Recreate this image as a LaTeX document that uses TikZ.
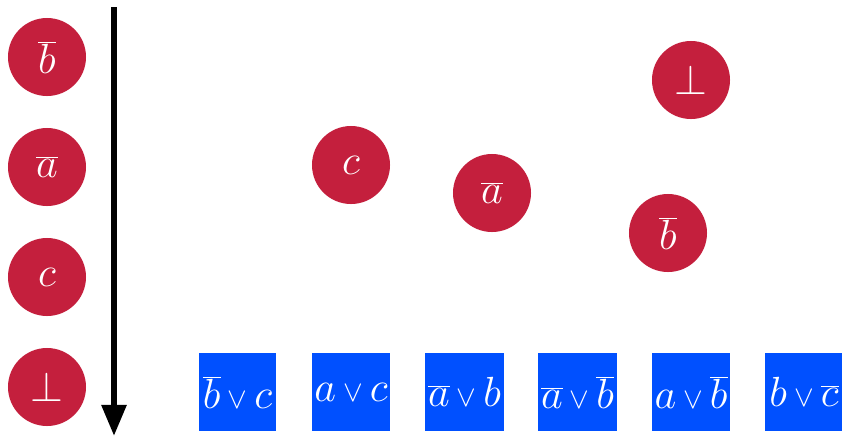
\RequirePackage{fix-cm}
\documentclass[tikz,border=0pt]{standalone}
\definecolor{literal}{HTML}{C41F3D}
\definecolor{clause}{HTML}{0050FF}
\usepackage{tikz}
\usetikzlibrary{arrows.meta}
\newcommand{\smallor}{\mathord{\,{\scriptstyle\vee}\,}}

\begin{document}
\begin{tikzpicture}[x=0.025cm, y=-0.025cm,
  lit/.style={circle, fill=literal, text=white, minimum size=1.95cm,
    inner sep=0pt, font=\fontsize{30}{34}\selectfont},
  cls/.style={rectangle, fill=clause, text=white, minimum size=1.925cm,
    inner xsep=2pt, font=\fontsize{30}{34}\selectfont}]
\useasboundingbox (0,0) rectangle (842,436);
% trail on the left
\node[lit] (t1) at (47,57) {$\overline{b}$};
\node[lit] (t2) at (47,167) {$\overline{a}$};
\node[lit] (t3) at (47,277) {$c$};
\node[lit] (t4) at (47,387) {$\bot$};
\coordinate (ttop) at (114,7);
\coordinate (tbot) at (114,436);
\draw[line width=4.3pt, -{Triangle[length=0.78cm, width=0.6cm]}] (ttop) -- (tbot);
% floating literals
\node[lit] (lc) at (351,165) {$c$};
\node[lit] (la) at (492,193) {$\overline{a}$};
\node[lit] (lbot) at (691,80) {$\bot$};
\node[lit] (lb) at (668,233) {$\overline{b}$};
% clauses
\node[cls] (c1) at (237.5,392) {$\overline{b}\smallor c$};
\node[cls] (c2) at (351,392) {$a\smallor c$};
\node[cls] (c3) at (464.5,392) {$\overline{a}\smallor b$};
\node[cls] (c4) at (577.5,392) {$\overline{a}\smallor\overline{b}$};
\node[cls] (c5) at (691,392) {$a\smallor\overline{b}$};
\node[cls] (c6) at (804,392) {$b\smallor\overline{c}$};
\end{tikzpicture}
\end{document}
